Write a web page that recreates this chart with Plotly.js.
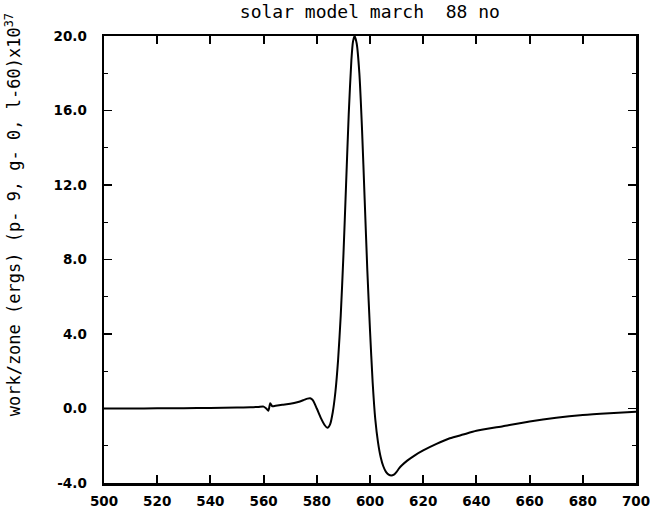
<!DOCTYPE html>
<html>
<head>
<meta charset="utf-8">
<script src="https://cdn.plot.ly/plotly-3.0.1.min.js"></script>
<style>html,body{margin:0;padding:0;background:#fff;}#chart{width:650px;height:511px;}</style>
</head>
<body>
<div id="chart"></div>
<script>
const titleText = "solar model march\u00a0\u00a088 no";
const yTitleText = "work/zone (ergs) (p- 9, g- 0, l-60)x10<sup>37</sup>";
const xTickVals = [500, 520, 540, 560, 580, 600, 620, 640, 660, 680, 700];
const yTickVals = [-4, 0, 4, 8, 12, 16, 20];
const yTickText = ["-4.0", "0.0", "4.0", "8.0", "12.0", "16.0", "20.0"];

const zoneX = [500, 510, 520, 530, 540, 550, 555, 558, 560, 561, 561.8, 562.5, 563.3, 564.5, 567, 570, 573, 575, 576.5, 577.5, 578.5, 580, 581.5, 583, 584, 585, 586, 587, 588, 589, 590, 591, 592, 593, 593.6, 594.2, 595, 596, 597, 598, 599, 600, 601, 602, 603, 604, 605, 606, 607, 608, 609, 610, 611, 612, 614, 617, 620, 625, 630, 635, 640, 650, 660, 670, 680, 690, 700];
const workY = [0, 0, 0.01, 0.02, 0.03, 0.05, 0.07, 0.08, 0.1, 0.0, -0.12, 0.28, 0.12, 0.15, 0.2, 0.25, 0.35, 0.45, 0.53, 0.55, 0.45, 0.0, -0.5, -0.9, -1.04, -0.85, -0.2, 0.9, 2.6, 5.0, 8.2, 12.0, 15.8, 18.7, 19.7, 20.0, 19.6, 18.0, 15.0, 11.2, 7.4, 4.2, 1.4, -0.6, -1.8, -2.6, -3.1, -3.4, -3.55, -3.6, -3.55, -3.4, -3.2, -3.05, -2.8, -2.5, -2.25, -1.9, -1.6, -1.4, -1.2, -0.95, -0.7, -0.5, -0.35, -0.25, -0.17];

const trace = {
  x: zoneX, y: workY, type: 'scatter', mode: 'lines',
  line: {color: '#000', width: 2, shape: 'spline', smoothing: 0.6},
  hoverinfo: 'skip'
};

const tickFont = {family: 'DejaVu Sans', size: 13.5, color: '#000', weight: 'bold'};
const layout = {
  width: 650, height: 511,
  margin: {l: 104, r: 14, t: 36, b: 28},
  paper_bgcolor: '#fff', plot_bgcolor: '#fff',
  showlegend: false,
  title: {text: titleText, font: {family: 'DejaVu Sans Mono', size: 18, color: '#000'}, x: 0.569, xanchor: 'center', y: 0.977, yanchor: 'middle'},
  xaxis: {
    range: [500, 700], tickvals: xTickVals, ticktext: xTickVals.map(String),
    ticks: 'inside', ticklen: 8, tickwidth: 2, tickcolor: '#000',
    showline: true, linecolor: '#000', linewidth: 2.5, mirror: 'ticks',
    showgrid: false, zeroline: false, tickfont: tickFont, ticklabelstandoff: 4,
    ticklabeloverflow: 'allow'
  },
  yaxis: {
    range: [-4, 20], tickvals: yTickVals, ticktext: yTickText,
    ticks: 'inside', ticklen: 8, tickwidth: 1.5, tickcolor: '#000',
    minor: {dtick: 2, ticks: 'inside', ticklen: 4, tickcolor: '#000', tickwidth: 1, showgrid: false},
    showline: true, linecolor: '#000', linewidth: 2.5, mirror: 'ticks',
    showgrid: false, zeroline: false, tickfont: tickFont, ticklabelstandoff: 12,
    ticklabeloverflow: 'allow'
  },
  annotations: [{
    text: yTitleText, xref: 'paper', yref: 'paper', x: -0.172, y: 0.6,
    xanchor: 'center', yanchor: 'middle', textangle: -90, showarrow: false,
    font: {family: 'DejaVu Sans Mono', size: 17, color: '#000'}
  }]
};
Plotly.newPlot('chart', [trace], layout, {staticPlot: true, displayModeBar: false});
</script>
</body>
</html>
